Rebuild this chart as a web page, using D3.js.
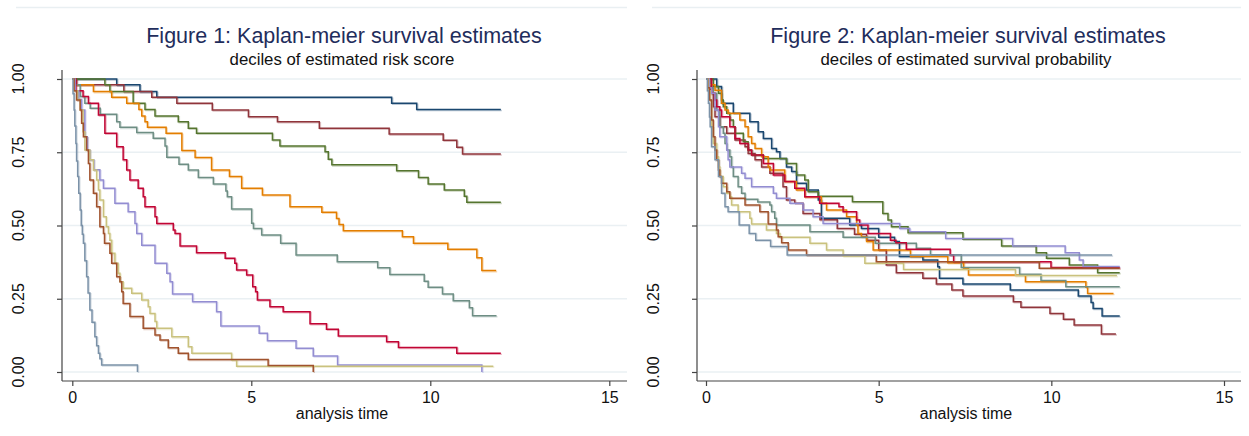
<!DOCTYPE html>
<html>
<head>
<meta charset="utf-8">
<script src="https://cdn.jsdelivr.net/npm/d3@7"></script>
<style>
body { margin: 0; background: #fff; }
text { font-family: "Liberation Sans", Arial, sans-serif; }
</style>
</head>
<body>
<script>
var w = 1249;
var h = 436;

// tick values
var xTicks = [0, 5, 10, 15];
var yTicks = [0, 0.25, 0.5, 0.75, 1];
var yTickLabels = ["0.00", "0.25", "0.50", "0.75", "1.00"];

// Stata s2color palette, one per decile
var colors = ["#1a476f", "#90353b", "#55752f", "#e37e00", "#6e8e84",
	"#c10534", "#938dd2", "#cac27e", "#a0522d", "#7b92a8"];

// figure 1: deciles of estimated risk score, [time, survival] at each step
var f1d1 = [[0,1],[1.24,0.98],[1.89,0.957],[2.36,0.9375],[8.92,0.917],[9.62,0.896],[11.97,0.896]];
var f1d2 = [[0,1],[0.12,0.98],[1.44,0.957],[2.22,0.9375],[2.92,0.917],[3.91,0.894],[4.92,0.871],[5.73,0.854],[6.9,0.832],[8.85,0.812],[10.36,0.791],[10.74,0.767],[10.9,0.744],[11.97,0.744]];
var f1d3 = [[0,1],[0.91,0.98],[1.05,0.957],[1.70,0.917],[2.03,0.896],[2.31,0.874],[2.96,0.854],[3.24,0.832],[3.47,0.815],[5.59,0.792],[5.80,0.771],[7.06,0.752],[7.15,0.726],[7.25,0.707],[9.06,0.687],[9.67,0.664],[9.94,0.642],[10.39,0.621],[10.95,0.60],[11.02,0.579],[11.97,0.579]];
var f1d4 = [[0,1],[0.05,0.98],[0.59,0.957],[1.10,0.9375],[1.52,0.917],[1.86,0.896],[1.94,0.874],[2.03,0.854],[2.10,0.835],[2.62,0.815],[3.06,0.756],[3.43,0.732],[3.89,0.689],[4.39,0.667],[4.73,0.627],[5.31,0.604],[6.08,0.564],[6.97,0.545],[7.38,0.524],[7.45,0.503],[7.57,0.482],[9.22,0.462],[9.53,0.439],[10.49,0.419],[11.3,0.39],[11.44,0.346],[11.84,0.346]];
var f1d5 = [[0,1],[0.05,0.98],[0.22,0.94],[0.35,0.917],[0.50,0.90],[0.78,0.88],[1.24,0.854],[1.33,0.835],[1.80,0.817],[2.26,0.798],[2.59,0.771],[2.64,0.733],[2.98,0.709],[3.24,0.689],[3.52,0.664],[3.94,0.642],[4.29,0.618],[4.33,0.598],[4.45,0.556],[5.01,0.508],[5.06,0.49],[5.29,0.468],[5.82,0.439],[6.25,0.399],[7.40,0.376],[8.53,0.356],[8.87,0.333],[9.83,0.31],[9.94,0.289],[10.34,0.266],[10.64,0.243],[11.09,0.219],[11.18,0.192],[11.85,0.192]];
var f1d6 = [[0,1],[0.1,0.96],[0.3,0.94],[0.45,0.917],[0.73,0.877],[0.91,0.815],[1.24,0.769],[1.42,0.724],[1.52,0.689],[1.61,0.655],[1.84,0.627],[1.98,0.598],[2.03,0.564],[2.31,0.53],[2.36,0.507],[2.82,0.485],[2.87,0.473],[3.01,0.43],[3.47,0.407],[4.27,0.388],[4.54,0.371],[4.59,0.348],[4.87,0.331],[5.04,0.291],[5.12,0.274],[5.17,0.246],[5.52,0.223],[5.89,0.206],[6.64,0.165],[7.10,0.146],[7.43,0.123],[8.78,0.103],[9.11,0.084],[10.74,0.064],[11.97,0.064]];
var f1d7 = [[0,1],[0.08,0.96],[0.18,0.93],[0.26,0.894],[0.35,0.803],[0.42,0.758],[0.49,0.724],[0.6,0.69],[0.77,0.655],[0.87,0.627],[1.19,0.576],[1.56,0.547],[1.75,0.507],[1.80,0.473],[1.94,0.433],[2.31,0.371],[2.64,0.337],[2.73,0.308],[2.80,0.266],[3.36,0.24],[4.03,0.206],[4.15,0.157],[5.22,0.132],[5.45,0.107],[6.25,0.081],[6.73,0.055],[7.41,0.024],[11.44,0]];
var f1d8 = [[0,1],[0.05,0.96],[0.15,0.93],[0.22,0.894],[0.3,0.82],[0.35,0.758],[0.49,0.724],[0.59,0.689],[0.68,0.655],[0.73,0.621],[0.77,0.587],[0.87,0.53],[0.95,0.496],[1.01,0.473],[1.05,0.45],[1.10,0.405],[1.19,0.371],[1.28,0.337],[1.33,0.308],[1.42,0.286],[1.66,0.269],[1.94,0.246],[2.12,0.223],[2.17,0.2],[2.31,0.172],[2.36,0.149],[2.78,0.12],[3.24,0.086],[3.34,0.064],[4.45,0.041],[4.59,0.02],[11.76,0.02]];
var f1d9 = [[0,1],[0.05,0.96],[0.12,0.928],[0.22,0.894],[0.26,0.849],[0.31,0.803],[0.40,0.758],[0.45,0.712],[0.49,0.655],[0.59,0.61],[0.68,0.564],[0.77,0.496],[0.87,0.473],[0.9,0.439],[1.05,0.405],[1.10,0.371],[1.24,0.325],[1.33,0.308],[1.38,0.274],[1.42,0.234],[1.61,0.189],[1.98,0.149],[2.31,0.126],[2.45,0.109],[2.68,0.083],[2.96,0.064],[3.24,0.043],[5.47,0.022],[6.73,0]];
var f1d10 = [[0,1],[0.02,0.95],[0.05,0.894],[0.07,0.84],[0.10,0.78],[0.12,0.72],[0.15,0.667],[0.18,0.61],[0.22,0.553],[0.25,0.5],[0.28,0.47],[0.31,0.439],[0.35,0.38],[0.40,0.325],[0.44,0.27],[0.49,0.212],[0.55,0.17],[0.63,0.12],[0.68,0.09],[0.73,0.064],[0.77,0.045],[0.82,0.024],[1.82,0]];

// figure 2: deciles of estimated survival probability
var f2d1 = [[0,1],[0.31,0.974],[0.45,0.917],[0.79,0.883],[1.27,0.854],[1.51,0.82],[1.66,0.797],[1.90,0.763],[2.04,0.752],[2.14,0.729],[2.33,0.70],[2.48,0.684],[2.62,0.644],[2.91,0.621],[3.25,0.587],[3.34,0.525],[4.16,0.502],[4.50,0.49],[5.0,0.46],[5.46,0.445],[5.6,0.394],[6.28,0.382],[6.71,0.359],[6.76,0.32],[7.44,0.30],[8.81,0.28],[10.78,0.259],[11.15,0.237],[11.21,0.217],[11.47,0.191],[11.98,0.191]];
var f2d2 = [[0,1],[0.12,0.951],[0.21,0.905],[0.26,0.871],[0.40,0.837],[0.60,0.815],[0.84,0.792],[1.13,0.769],[1.22,0.746],[1.42,0.724],[1.61,0.70],[1.85,0.678],[2.23,0.632],[2.33,0.587],[2.57,0.576],[2.81,0.541],[3.3,0.52],[3.8,0.49],[4.3,0.47],[4.65,0.45],[5.0,0.416],[5.22,0.365],[5.51,0.339],[6.28,0.32],[6.67,0.30],[7.12,0.28],[7.44,0.259],[8.90,0.24],[9.12,0.221],[9.96,0.20],[10.35,0.18],[10.66,0.16],[11.45,0.13],[11.87,0.13]];
var f2d3 = [[0,1],[0.21,0.974],[0.36,0.951],[0.45,0.928],[0.50,0.905],[0.60,0.883],[0.69,0.86],[0.79,0.837],[0.84,0.815],[1.08,0.786],[1.22,0.758],[1.32,0.741],[1.66,0.729],[2.33,0.712],[2.62,0.672],[2.86,0.655],[2.96,0.615],[3.25,0.60],[4.24,0.581],[5.12,0.541],[5.27,0.519],[5.37,0.496],[5.85,0.475],[7.44,0.453],[8.56,0.43],[9.56,0.407],[9.86,0.388],[10.52,0.365],[11.34,0.339],[11.98,0.339]];
var f2d4 = [[0,1],[0.1,0.98],[0.26,0.962],[0.45,0.917],[0.55,0.894],[0.64,0.883],[0.98,0.86],[1.13,0.837],[1.22,0.803],[1.32,0.78],[1.42,0.763],[1.61,0.735],[1.80,0.70],[1.85,0.689],[2.28,0.65],[2.62,0.621],[2.86,0.598],[3.34,0.576],[3.49,0.553],[4.07,0.53],[4.36,0.502],[4.40,0.473],[4.50,0.462],[4.65,0.445],[4.84,0.416],[5.92,0.394],[7.00,0.373],[7.46,0.354],[7.60,0.331],[9.25,0.308],[11.0,0.289],[11.05,0.268],[11.8,0.268]];
var f2d5 = [[0,1],[0.1,0.97],[0.21,0.951],[0.31,0.894],[0.40,0.837],[0.50,0.815],[0.55,0.78],[0.60,0.758],[0.69,0.735],[0.74,0.70],[0.79,0.667],[0.93,0.632],[1.03,0.61],[1.13,0.59],[1.5,0.58],[1.85,0.57],[1.90,0.547],[1.99,0.525],[2.04,0.502],[3.01,0.479],[3.97,0.46],[4.9,0.439],[6.09,0.422],[6.5,0.40],[7.39,0.357],[9.08,0.334],[9.70,0.312],[10.42,0.291],[11.98,0.291]];
var f2d6 = [[0,1],[0.16,0.951],[0.26,0.928],[0.31,0.905],[0.40,0.894],[0.45,0.871],[0.69,0.837],[0.84,0.797],[0.98,0.78],[1.22,0.758],[1.32,0.741],[1.66,0.712],[1.95,0.672],[2.28,0.65],[2.57,0.627],[2.86,0.598],[3.29,0.576],[3.85,0.564],[3.97,0.547],[4.36,0.519],[4.45,0.502],[4.69,0.473],[5.34,0.45],[5.5,0.441],[5.80,0.419],[7.07,0.399],[7.17,0.376],[9.99,0.357],[11.98,0.357]];
var f2d7 = [[0,1],[0.1,0.97],[0.16,0.951],[0.26,0.894],[0.36,0.837],[0.40,0.803],[0.60,0.758],[0.64,0.724],[0.69,0.70],[1.03,0.678],[1.13,0.661],[1.32,0.632],[1.95,0.61],[2.04,0.593],[2.43,0.576],[2.81,0.553],[3.10,0.53],[3.39,0.507],[5.61,0.49],[5.90,0.479],[6.94,0.456],[8.88,0.43],[10.40,0.407],[10.81,0.382],[10.92,0.36],[11.98,0.36]];
var f2d8 = [[0,1],[0.07,0.96],[0.12,0.928],[0.16,0.837],[0.21,0.78],[0.31,0.735],[0.36,0.70],[0.40,0.667],[0.50,0.632],[0.60,0.61],[0.69,0.598],[0.74,0.57],[0.93,0.547],[1.27,0.525],[1.32,0.505],[1.75,0.485],[2.04,0.473],[2.14,0.46],[3.01,0.439],[3.49,0.416],[3.97,0.396],[4.6,0.371],[5.72,0.35],[8.96,0.329],[11.9,0.329]];
var f2d9 = [[0,1],[0.05,0.97],[0.10,0.928],[0.16,0.86],[0.21,0.803],[0.26,0.758],[0.31,0.724],[0.36,0.689],[0.40,0.667],[0.45,0.644],[0.60,0.615],[0.69,0.593],[1.13,0.57],[1.56,0.547],[1.80,0.505],[2.04,0.485],[2.09,0.462],[2.19,0.441],[2.38,0.416],[2.91,0.399],[4.93,0.376],[9.65,0.354],[11.98,0.354]];
var f2d10 = [[0,1],[0.04,0.96],[0.07,0.917],[0.10,0.87],[0.12,0.837],[0.16,0.769],[0.26,0.724],[0.36,0.667],[0.45,0.61],[0.55,0.564],[0.64,0.547],[0.96,0.502],[1.25,0.473],[1.44,0.45],[1.87,0.428],[2.35,0.399],[11.76,0.399]];

var fig1 = [f1d1, f1d2, f1d3, f1d4, f1d5, f1d6, f1d7, f1d8, f1d9, f1d10];
var fig2 = [f2d1, f2d2, f2d3, f2d4, f2d5, f2d6, f2d7, f2d8, f2d9, f2d10];

var svg = d3.select("body").append("svg")
	.attr("width", w)
	.attr("height", h);

function drawPanel(opt) {
	var g = svg.append("g");

	var x = d3.scaleLinear().domain([0, 15]).range([opt.x0, opt.x15]);
	var y = d3.scaleLinear().domain([0, 1]).range([372, 79]);

	// faint frame line at the very top
	g.append("line")
		.attr("x1", opt.frameLeft).attr("x2", opt.right)
		.attr("y1", 7.5).attr("y2", 7.5)
		.attr("stroke", "#e9eff2").attr("stroke-width", 1.5);

	g.append("text")
		.attr("x", opt.cx + 2).attr("y", 43)
		.attr("text-anchor", "middle")
		.attr("font-size", 21.5)
		.attr("fill", "#1f2d5c")
		.text(opt.title);

	g.append("text")
		.attr("x", opt.cx).attr("y", 65)
		.attr("text-anchor", "middle")
		.attr("font-size", 16.8)
		.attr("fill", "#111")
		.text(opt.subtitle);

	// gridlines
	g.selectAll(".grid").data(yTicks).enter().append("line")
		.attr("x1", opt.axisX + 1).attr("x2", opt.right)
		.attr("y1", function(d) { return y(d); })
		.attr("y2", function(d) { return y(d); })
		.attr("stroke", "#eaf0f3").attr("stroke-width", 1.5);

	// curves, with a light offset copy like the Stata export
	var line = d3.line()
		.x(function(d) { return x(d[0]); })
		.y(function(d) { return y(d[1]); })
		.curve(d3.curveStepAfter);

	g.selectAll(".shadow").data(opt.series).enter().append("path")
		.attr("d", line)
		.attr("fill", "none")
		.attr("stroke", function(d, i) { return colors[i]; })
		.attr("stroke-opacity", 0.3)
		.attr("stroke-width", 1.6)
		.attr("transform", "translate(1,1)");

	g.selectAll(".km").data(opt.series).enter().append("path")
		.attr("d", line)
		.attr("fill", "none")
		.attr("stroke", function(d, i) { return colors[i]; })
		.attr("stroke-width", 1.5);

	// y axis
	var yAxis = g.append("g")
		.attr("transform", "translate(" + opt.axisX + ",0)")
		.call(d3.axisLeft(y).tickValues(yTicks).tickSize(5).tickFormat(""));
	yAxis.select(".domain").attr("d", "M0,70V381");
	yAxis.selectAll("line, path").attr("stroke", "#444").attr("stroke-width", 1.2);

	g.selectAll(".ylab").data(yTicks).enter().append("text")
		.attr("transform", function(d) {
			return "translate(" + (opt.axisX - 38.5) + "," + y(d) + ") rotate(-90)";
		})
		.attr("text-anchor", "middle")
		.attr("font-size", 16)
		.attr("fill", "#111")
		.text(function(d, i) { return yTickLabels[i]; });

	// x axis
	var xAxis = g.append("g")
		.attr("transform", "translate(0,381)")
		.call(d3.axisBottom(x).tickValues(xTicks).tickSize(5).tickPadding(6));
	xAxis.select(".domain").attr("d", "M" + opt.axisX + ",0H" + opt.right);
	xAxis.selectAll("line, path").attr("stroke", "#444").attr("stroke-width", 1.2);
	xAxis.selectAll("text")
		.attr("font-size", 16)
		.attr("font-family", "'Liberation Sans', Arial, sans-serif")
		.attr("fill", "#111");

	g.append("text")
		.attr("x", opt.cx).attr("y", 419)
		.attr("text-anchor", "middle")
		.attr("font-size", 16)
		.attr("fill", "#111")
		.text("analysis time");
}

drawPanel({
	series: fig1,
	title: "Figure 1: Kaplan-meier survival estimates",
	subtitle: "deciles of estimated risk score",
	axisX: 62, x0: 72.3, x15: 609.3, right: 627, frameLeft: 16, cx: 342
});

drawPanel({
	series: fig2,
	title: "Figure 2: Kaplan-meier survival estimates",
	subtitle: "deciles of estimated survival probability",
	axisX: 697, x0: 706, x15: 1224, right: 1241, frameLeft: 652, cx: 966
});
</script>
</body>
</html>
